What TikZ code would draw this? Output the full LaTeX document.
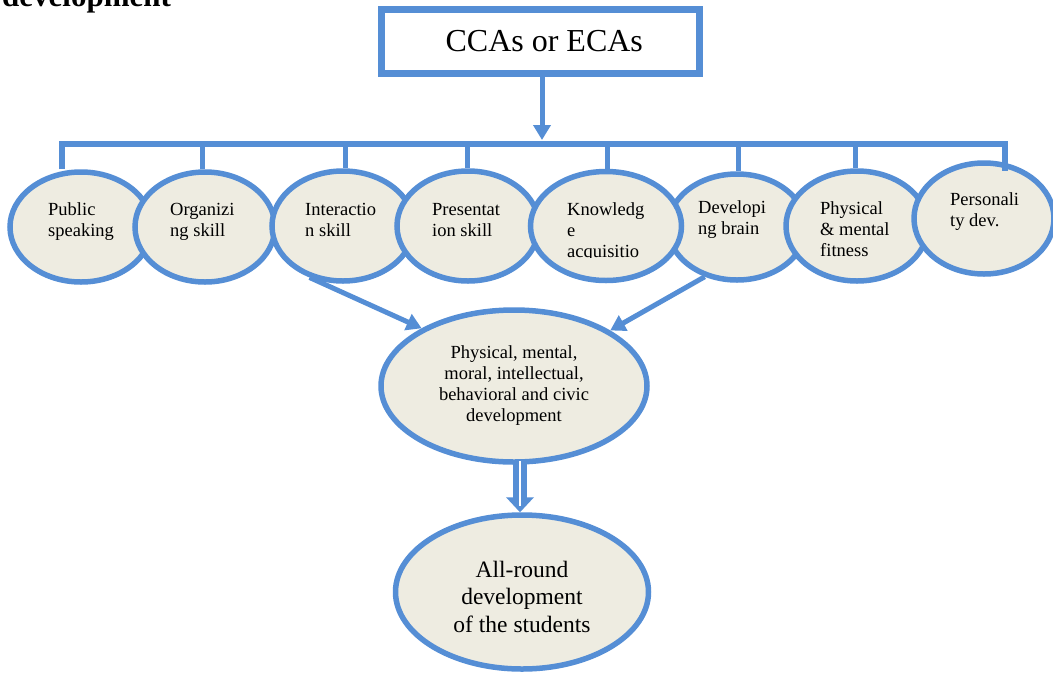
\documentclass[tikz,border=0pt]{standalone}
\usepackage{fontspec}
\setmainfont{Liberation Serif}
\usetikzlibrary{shapes.geometric,arrows.meta,calc}
\definecolor{cblue}{HTML}{558ED5}
\definecolor{cfill}{HTML}{EEECE1}
\begin{document}
\begin{tikzpicture}[x=1pt,y=-1pt,
  oval/.style={ellipse, draw=cblue, fill=cfill, line width=5.5pt, inner sep=0pt},
  conn/.style={draw=cblue, line width=5pt},
  arr/.style={conn, -{Triangle[length=15pt,width=17pt]}},
  lbl/.style={anchor=north west, inner sep=0pt, align=left, font=\fontsize{18.5}{21}\selectfont},
]
\useasboundingbox (0,0) rectangle (1053,673);

% title fragment
\node[anchor=base west, inner sep=0pt, font=\bfseries\fontsize{31}{31}\selectfont] (title) at (2,6) {development};

% top box
\node[draw=cblue, line width=7pt, minimum width=317.5pt, minimum height=64pt, inner sep=0pt,
      font=\fontsize{32}{32}\selectfont] (top) at (540.25,41.5) {\hspace*{8pt}CCAs or ECAs};

% ellipses (drawing order matters for overlaps)
\node[oval, minimum width=142pt, minimum height=110pt] (e1) at (81,227) {};
\node[lbl] (l1) at (48,200.3) {\strut Public\\speaking};
\node[oval, minimum width=140pt, minimum height=110pt] (e2) at (205,227) {};
\node[lbl] (l2) at (170,200.3) {\strut Organizi\\ng skill};
\node[oval, minimum width=142pt, minimum height=110pt] (e3) at (343,226) {};
\node[lbl] (l3) at (305,200.3) {\strut Interactio\\n skill};
\node[oval, minimum width=142pt, minimum height=110pt] (e4) at (468,226) {};
\node[lbl] (l4) at (432,200.3) {\strut Presentat\\ion skill};
\node[oval, minimum width=138pt, minimum height=106pt] (e6) at (737,227) {};
\node[lbl] (l6) at (698,198.3) {\strut Developi\\ng brain};
\node[oval, minimum width=151pt, minimum height=109pt] (e5) at (606,226) {};
\begin{scope}
  \clip (530,180) rectangle (684,257);
  \node[lbl] (l5) at (567,200.3) {\strut Knowledg\\e\\acquisitio};
\end{scope}
\node[oval, minimum width=142pt, minimum height=110pt] (e7) at (857,226) {};
\node[lbl] (l7) at (820,199.3) {\strut Physical\\\& mental\\fitness};
\node[oval, minimum width=140pt, minimum height=111pt] (e8) at (984,218.5) {};
\node[lbl] (l8) at (950,190.3) {\strut Personali\\ty dev.};

% middle and bottom ellipses
\node[oval, minimum width=266pt, minimum height=152pt, align=center,
      font=\fontsize{18.5}{21}\selectfont] (mid) at (514,386)
      {Physical, mental,\\moral, intellectual,\\behavioral and civic\\development};
\node[oval, minimum width=253pt, minimum height=154pt] (all) at (522,592) {};
\node[align=center, inner sep=0pt, font=\fontsize{23.5}{27.5}\selectfont] (allt)
      at ($(all.center)+(0,4.5)$) {All-round\\development\\of the students};

% top arrow and bar
\coordinate (hub) at (542,140);
\draw[conn, -{Triangle[length=15pt,width=17pt]}] (top.south -| hub) -- (hub);
\coordinate (d1) at (62,143.5);
\coordinate (d2) at (202,143.5);
\coordinate (d3) at (345,143.5);
\coordinate (d4) at (467,143.5);
\coordinate (d5) at (607,143.5);
\coordinate (d6) at (738,143.5);
\coordinate (d7) at (855,143.5);
\coordinate (d8) at (1005,143.5);
\coordinate (p8) at (1005,171);
\draw[conn, line width=6pt] (d1 |- e1.north) -- (d1) -- (d8) -- (p8);
\draw[conn] (d2) -- (d2 |- e2.north);
\draw[conn] (d3) -- (d3 |- e3.north);
\draw[conn] (d4) -- (d4 |- e4.north);
\draw[conn] (d5) -- (d5 |- e5.north);
\draw[conn] (d6) -- (d6 |- e6.north);
\draw[conn] (d7) -- (d7 |- e7.north);

% arrows to middle ellipse
\draw[arr] (e3.237) -- (mid.148);
\draw[arr] (e6.237) -- (mid.30);

% double arrow to bottom ellipse
\coordinate (dx) at (520,0);
\coordinate (ds) at ($(dx |- mid.south)+(0,-4)$);
\coordinate (de) at (dx |- all.north);
\draw[draw=cblue, double=white, double distance=2pt, line width=6pt] (ds) -- ($(de)+(0,-14)$);
\fill[cblue] ($(de)+(-14,-15)$) -- ($(de)+(14,-15)$) -- (de) -- cycle;
\draw[white, line width=1.5pt] ($(de)+(0,-16)$) -- ($(de)+(0,-6)$);
\end{tikzpicture}
\end{document}
